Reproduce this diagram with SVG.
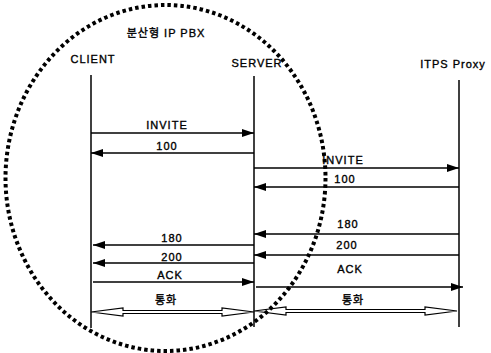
<svg xmlns="http://www.w3.org/2000/svg" width="491" height="353" viewBox="0 0 491 353">
<defs>
<style>
text{font-family:"Liberation Sans","Noto Sans CJK KR",sans-serif;font-size:11px;fill:#000;stroke:#000;stroke-width:0.35;text-anchor:middle;letter-spacing:1px}
.life{stroke:#000;stroke-width:1.5;fill:none}
.msg{stroke:#000;stroke-width:1.5;fill:none;marker-end:url(#ah)}
.talk{fill:#fff;stroke:#000;stroke-width:1.2}
.dots{fill:none;stroke:#000;stroke-width:4;stroke-dasharray:3.5 3}
</style>
<marker id="ah" markerUnits="userSpaceOnUse" markerWidth="12" markerHeight="8" refX="12" refY="4" orient="auto">
<path d="M0,0 L12,4 L0,8 Z" fill="#000"/>
</marker>
</defs>
<rect width="491" height="353" fill="#fff"/>
<g id="title"><text x="166" y="37">분산형 IP PBX</text></g>
<g id="client"><text x="93" y="63">CLIENT</text><line class="life" x1="91" y1="75" x2="91" y2="328"/></g>
<g id="server"><text x="257" y="67">SERVER</text><line class="life" x1="254" y1="76" x2="254" y2="327"/></g>
<g id="proxy"><text x="453" y="68">ITPS Proxy</text><line class="life" x1="459" y1="80" x2="459" y2="327"/></g>
<g id="connectors">
<line class="msg" x1="91" y1="133" x2="254" y2="133"/><text x="167" y="129">INVITE</text>
<line class="msg" x1="254" y1="153" x2="91" y2="153"/><text x="167" y="150">100</text>
<line class="msg" x1="254" y1="168" x2="459" y2="168"/><text x="343" y="164">INVITE</text>
<line class="msg" x1="459" y1="187" x2="254" y2="187"/><text x="345" y="183">100</text>
<line class="msg" x1="459" y1="234" x2="254" y2="234"/><text x="348" y="228">180</text>
<line class="msg" x1="459" y1="255" x2="254" y2="255"/><text x="347" y="249">200</text>
<line class="msg" x1="254" y1="245" x2="93" y2="245"/><text x="172" y="242">180</text>
<line class="msg" x1="254" y1="263" x2="93" y2="263"/><text x="172" y="261">200</text>
<line class="msg" x1="93" y1="282" x2="254" y2="282"/><text x="170" y="279">ACK</text>
<line class="msg" x1="256" y1="287" x2="463" y2="287"/><text x="350" y="273">ACK</text>
<polygon class="talk" points="91,312 123,308 123,310.5 222,310.5 222,308 254,312 222,316 222,313.5 123,313.5 123,316"/><text x="166" y="304">통화</text>
<polygon class="talk" points="254,311 286,307 286,309.5 425,309.5 425,307 457,311 425,315 425,312.5 286,312.5 286,315"/><text x="353" y="304">통화</text>
</g>
<g id="pbx-boundary"><ellipse class="dots" cx="165.5" cy="178" rx="160" ry="173"/></g>
</svg>
